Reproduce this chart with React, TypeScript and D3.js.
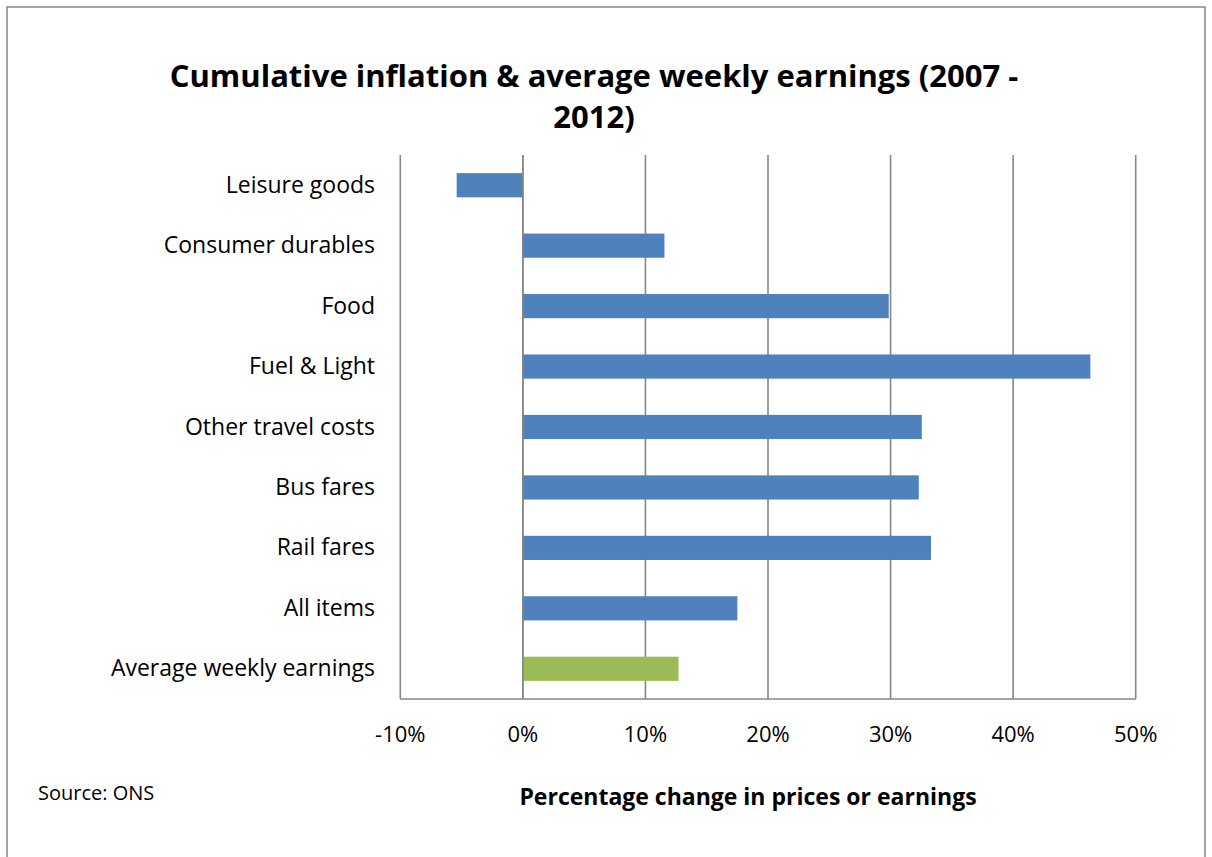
import React from "react";
import * as d3 from "d3";

const categories = [
  "Leisure goods",
  "Consumer durables",
  "Food",
  "Fuel & Light",
  "Other travel costs",
  "Bus fares",
  "Rail fares",
  "All items",
  "Average weekly earnings",
];
const values = [-5.4, 11.55, 29.85, 46.3, 32.55, 32.3, 33.3, 17.5, 12.7];
const barColors = ["#4F81BD", "#4F81BD", "#4F81BD", "#4F81BD", "#4F81BD", "#4F81BD", "#4F81BD", "#4F81BD", "#9BBB59"];
const xTicks = [-10, 0, 10, 20, 30, 40, 50];
const titleLines = ["Cumulative inflation & average weekly earnings (2007 -", "2012)"];
const xAxisTitle = "Percentage change in prices or earnings";
const sourceText = "Source: ONS";

const FONT = "'Open Sans', sans-serif";

export default function App() {
  const W = 1212;
  const H = 857;
  const left = 400.3;
  const right = 1135.7;
  const top = 155;
  const bottom = 699;

  const x = d3.scaleLinear().domain([-10, 50]).range([left, right]);
  const y = d3
    .scaleBand<string>()
    .domain(categories)
    .range([top, bottom])
    .paddingInner(0.6)
    .paddingOuter(0.3);

  const grid = "#878787";

  return (
    <svg
      width={W}
      height={H}
      style={{ position: "absolute", left: 0, top: 0, background: "#fff" }}
      fontFamily={FONT}
    >
      <rect x={0} y={0} width={W} height={H} fill="#fff" />
      <rect x={7} y={7} width={1198} height={870} fill="none" stroke="#868686" strokeWidth={1.5} />

      {titleLines.map((t, i) => (
        <text key={i} x={594} y={87 + i * 41} textAnchor="middle" fontWeight="bold" fontSize={31} fill="#000">
          {t}
        </text>
      ))}

      {xTicks.map((t) => (
        <line key={"g" + t} x1={x(t)} x2={x(t)} y1={top} y2={bottom} stroke={grid} strokeWidth={1.6} />
      ))}
      <line x1={left} x2={right} y1={bottom} y2={bottom} stroke={grid} strokeWidth={1.6} />

      {categories.map((c, i) => {
        const v = values[i];
        const x0 = x(Math.min(0, v));
        const x1 = x(Math.max(0, v));
        return (
          <rect key={c} x={x0} y={y(c)} width={x1 - x0} height={y.bandwidth()} fill={barColors[i]} />
        );
      })}
      <line x1={x(0)} x2={x(0)} y1={top} y2={bottom} stroke={grid} strokeWidth={1.6} />

      {categories.map((c) => (
        <text key={"l" + c} x={375} y={(y(c) as number) + y.bandwidth() / 2 + 7.5} textAnchor="end" fontSize={23} fill="#000">
          {c}
        </text>
      ))}

      {xTicks.map((t) => (
        <text key={"t" + t} x={x(t)} y={742} textAnchor="middle" fontSize={22} fill="#000">
          {String(t) + "%"}
        </text>
      ))}

      <text x={748} y={805} textAnchor="middle" fontWeight="bold" fontSize={23} fill="#000">
        {xAxisTitle}
      </text>
      <text x={38} y={800} fontSize={20} fill="#000">
        {sourceText}
      </text>
    </svg>
  );
}
